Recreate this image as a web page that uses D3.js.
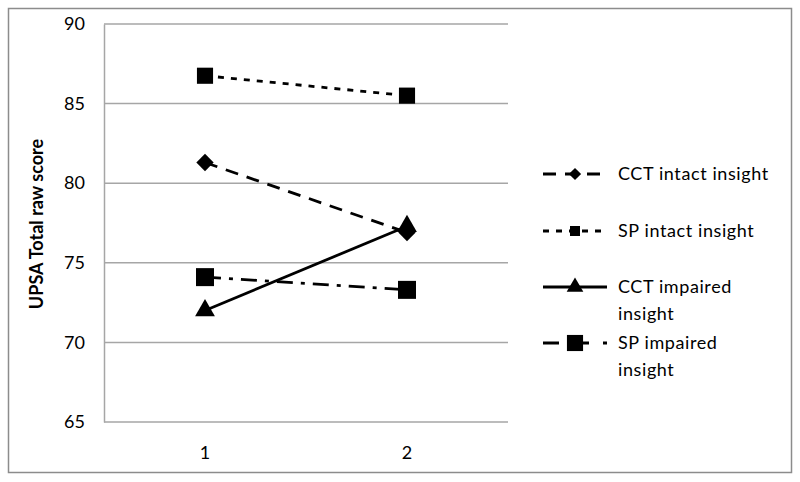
<!DOCTYPE html>
<html>
<head>
<meta charset="utf-8">
<script src="https://cdn.jsdelivr.net/npm/d3@7"></script>
<style>
  body { margin: 0; background: #fff; }
  svg text { font-family: Lato, "Open Sans", sans-serif; fill: #000; }
</style>
</head>
<body>
<svg id="chart" width="800" height="482"></svg>
<script>
// données
var categories = ["1", "2"];
var yTicks = [65, 70, 75, 80, 85, 90];
var seriesNames = ["CCT intact insight", "SP intact insight", "CCT impaired insight", "SP impaired insight"];
var cctIntact = [81.3, 76.9];
var spIntact = [86.75, 85.5];
var cctImpaired = [72.0, 77.3];
var spImpaired = [74.1, 73.3];

// style de chaque série (trait + marqueur)
var styles = [
  {dash: "13,9", symbol: d3.symbolSquare, rot: 45, size: 150, legendSize: 75, legendDash: "13,9", legendLines: ["CCT intact insight"]},
  {dash: "6,7", symbol: d3.symbolSquare, rot: 0, size: 260, legendSize: 100, legendDash: "6,7", legendLines: ["SP intact insight"]},
  {dash: null, symbol: d3.symbolTriangle, rot: 0, size: 170, legendSize: 120, legendDash: null, legendLines: ["CCT impaired", "insight"]},
  {dash: "16,8,4,8", symbol: d3.symbolSquare, rot: 0, size: 324, legendSize: 260, legendDash: "16,14", legendLines: ["SP impaired", "insight"]}
];
var allSeries = [cctIntact, spIntact, cctImpaired, spImpaired];

var svg = d3.select("#chart");

// cadre extérieur
svg.append("rect")
  .attr("x", 8.5).attr("y", 8.5)
  .attr("width", 783).attr("height", 464)
  .attr("fill", "none")
  .attr("stroke", "#8c8c8c")
  .attr("stroke-width", 1.5);

var plot = {left: 104, right: 508, top: 24, bottom: 422};

var x = d3.scaleBand()
  .domain(categories)
  .range([plot.left, plot.right]);

var y = d3.scaleLinear()
  .domain([65, 90])
  .range([plot.bottom, plot.top]);

// grille horizontale
svg.append("g")
  .selectAll("line")
  .data(yTicks)
  .enter()
  .append("line")
  .attr("x1", plot.left).attr("x2", plot.right)
  .attr("y1", function(d){ return y(d) })
  .attr("y2", function(d){ return y(d) })
  .attr("stroke", "#a6a6a6")
  .attr("stroke-width", 1.5);

// axe vertical
var yAxis = svg.append("g")
  .attr("transform", "translate(" + plot.left + ",0)")
  .call(d3.axisLeft(y).tickValues(yTicks).tickSize(0).tickPadding(19));
yAxis.select(".domain").attr("stroke", "#a6a6a6").attr("stroke-width", 1.5);
yAxis.selectAll("text").style("font-size", "18px").style("font-family", "Lato, sans-serif");

// axe horizontal
var xAxis = svg.append("g")
  .attr("transform", "translate(0," + plot.bottom + ")")
  .call(d3.axisBottom(x).tickSize(0).tickPadding(24));
xAxis.select(".domain").remove();
xAxis.selectAll("text").style("font-size", "18px").style("font-family", "Lato, sans-serif");

// titre de l'axe Y
svg.append("text")
  .attr("transform", "translate(43,224) rotate(-90)")
  .attr("text-anchor", "middle")
  .style("font-size", "18px")
  .style("font-weight", "bold")
  .text("UPSA Total raw score");

var cx = function(i){ return x(categories[i]) + x.bandwidth() / 2 };

var line = d3.line()
  .x(function(d, i){ return cx(i) })
  .y(function(d){ return y(d) });

// séries
allSeries.forEach(function(values, s){
  var st = styles[s];
  svg.append("path")
    .datum(values)
    .attr("d", line)
    .attr("fill", "none")
    .attr("stroke", "#000")
    .attr("stroke-width", 2.8)
    .attr("stroke-dasharray", st.dash);
  svg.append("g")
    .selectAll("path")
    .data(values)
    .enter()
    .append("path")
    .attr("d", d3.symbol().type(st.symbol).size(st.size))
    .attr("transform", function(d, i){ return "translate(" + cx(i) + "," + y(d) + ") rotate(" + st.rot + ")" })
    .attr("fill", "#000");
});

// légende
var legendY = [174, 231, 287, 343];
var legend = svg.append("g");
styles.forEach(function(st, s){
  var g = legend.append("g").attr("transform", "translate(0," + legendY[s] + ")");
  g.append("line")
    .attr("x1", 543).attr("x2", 607)
    .attr("y1", 0).attr("y2", 0)
    .attr("stroke", "#000")
    .attr("stroke-width", 2.8)
    .attr("stroke-dasharray", st.legendDash);
  g.append("path")
    .attr("d", d3.symbol().type(st.symbol).size(st.legendSize))
    .attr("transform", "translate(575,0) rotate(" + st.rot + ")")
    .attr("fill", "#000");
  st.legendLines.forEach(function(t, k){
    g.append("text")
      .attr("x", 618)
      .attr("y", k * 27)
      .attr("dy", "0.35em")
      .style("font-size", "18px")
      .style("letter-spacing", "0.6px")
      .text(t);
  });
});
</script>
</body>
</html>
